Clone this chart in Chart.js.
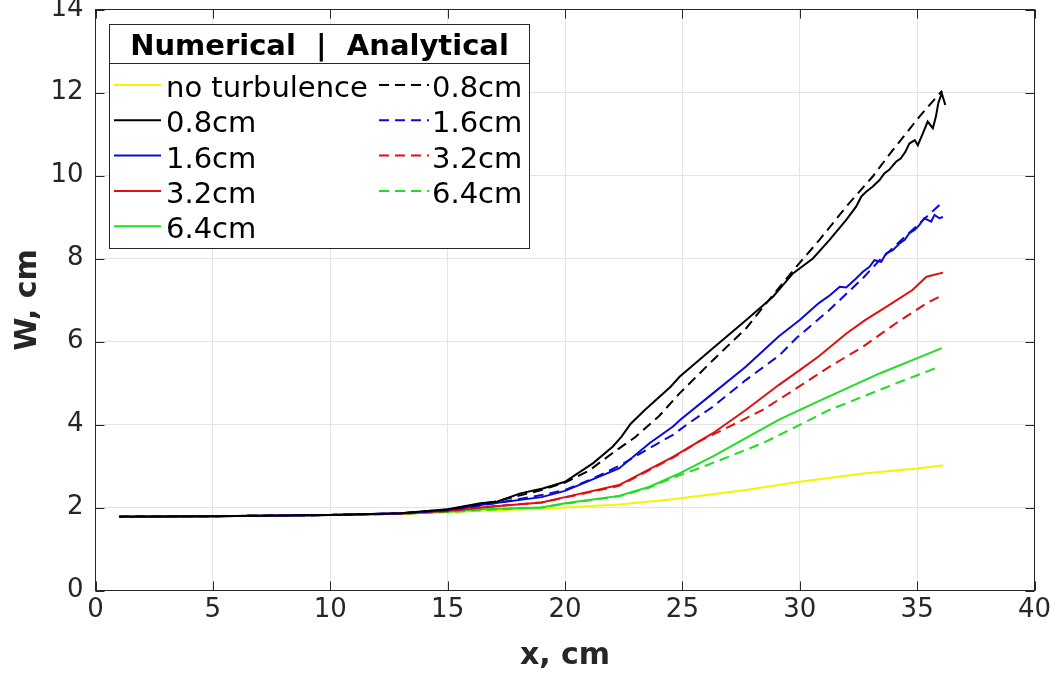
<!DOCTYPE html>
<html>
<head>
<meta charset="utf-8">
<script src="https://cdn.jsdelivr.net/npm/chart.js@4/dist/chart.umd.min.js"></script>
<style>
  html, body { margin: 0; padding: 0; background: #fff; }
</style>
</head>
<body>
<canvas id="chart" width="1057" height="678"></canvas>
<script>
// --- Data ---
const xTickValues = [0, 5, 10, 15, 20, 25, 30, 35, 40];
const yTickValues = [0, 2, 4, 6, 8, 10, 12, 14];

const legendTitle = "Numerical  |  Analytical";
const numLabels = ["no turbulence", "0.8cm", "1.6cm", "3.2cm", "6.4cm"];
const anaLabels = ["0.8cm", "1.6cm", "3.2cm", "6.4cm"];

// numerical, no turbulence
const xNoTurb = [1, 5, 10, 13, 15, 16.4, 19, 20, 22.3, 24.6, 27.7, 30, 32.7, 35, 36.1];
const wNoTurb = [1.78, 1.79, 1.82, 1.85, 1.89, 1.92, 1.97, 2.0, 2.07, 2.2, 2.42, 2.62, 2.82, 2.94, 3.02];

// numerical 0.8cm
const xNum08 = [1, 5, 10, 13, 15, 16.4, 17.1, 18.1, 19.05, 20, 21.2, 22.04, 22.4, 22.8, 23.4, 24.5, 24.88, 26.3, 27.72, 28.86, 29.71, 30.56, 31.27, 31.98, 32.4, 32.62, 32.83, 33.1, 33.4, 33.6, 33.8, 34.1, 34.3, 34.5, 34.67, 34.9, 35.03, 35.24, 35.45, 35.67, 35.8, 35.9, 36.05, 36.2];
const wNum08 = [1.78, 1.79, 1.82, 1.86, 1.96, 2.1, 2.14, 2.34, 2.46, 2.62, 3.07, 3.47, 3.7, 4.02, 4.35, 4.91, 5.15, 5.84, 6.52, 7.08, 7.64, 8.0, 8.45, 8.93, 9.25, 9.49, 9.61, 9.73, 9.89, 10.05, 10.13, 10.33, 10.41, 10.57, 10.77, 10.85, 10.73, 11.01, 11.3, 11.14, 11.42, 11.74, 11.98, 11.7];

// numerical 1.6cm
const xNum16 = [1, 5, 10, 13, 15, 16.4, 19, 20, 22.3, 23.6, 24.6, 24.9, 26.3, 27.7, 29.1, 30, 30.8, 31.3, 31.7, 31.98, 32.4, 32.69, 32.97, 33.18, 33.47, 33.68, 33.96, 34.25, 34.47, 34.67, 34.89, 35.1, 35.3, 35.45, 35.6, 35.74, 35.95, 36.1];
const wNum16 = [1.78, 1.79, 1.82, 1.86, 1.94, 2.06, 2.25, 2.4, 2.94, 3.55, 3.95, 4.11, 4.75, 5.39, 6.12, 6.52, 6.92, 7.12, 7.32, 7.3, 7.52, 7.68, 7.8, 7.96, 7.92, 8.12, 8.2, 8.36, 8.45, 8.61, 8.69, 8.81, 8.97, 8.93, 8.89, 9.05, 8.97, 9.0];

// numerical 3.2cm
const xNum32 = [1, 5, 10, 13, 15, 16.4, 19, 20, 22.3, 24.6, 26.3, 27.7, 29.1, 30, 30.8, 32, 32.8, 33.7, 34.8, 35.4, 36.1];
const wNum32 = [1.78, 1.79, 1.82, 1.85, 1.92, 2.0, 2.12, 2.25, 2.54, 3.22, 3.79, 4.35, 4.95, 5.31, 5.64, 6.2, 6.52, 6.84, 7.24, 7.56, 7.66];

// numerical 6.4cm
const xNum64 = [1, 5, 10, 13, 15, 16.4, 19, 20, 22.3, 23.6, 24.9, 26.3, 27.7, 29.1, 30.6, 32, 33.4, 34.8, 36.05];
const wNum64 = [1.78, 1.79, 1.82, 1.85, 1.9, 1.96, 2.0, 2.1, 2.28, 2.5, 2.83, 3.23, 3.67, 4.11, 4.51, 4.87, 5.23, 5.55, 5.84];

// analytical 0.8cm
const xAna08 = [1, 5, 10, 13, 15, 17, 19, 20, 21, 22, 23, 24, 24.88, 26.3, 27.72, 28.57, 29.85, 30.84, 31.98, 33.1, 33.96, 35.1, 36.06];
const wAna08 = [1.78, 1.79, 1.82, 1.86, 1.95, 2.14, 2.42, 2.6, 2.88, 3.3, 3.7, 4.2, 4.75, 5.55, 6.32, 6.92, 7.8, 8.45, 9.25, 9.97, 10.61, 11.42, 12.04];

// analytical 1.6cm
const xAna16 = [1, 5, 10, 13, 15, 17, 19, 20, 21, 22.3, 23.6, 24.6, 25.17, 26.3, 27.7, 29.14, 29.85, 31.26, 32.68, 33.4, 36.03];
const wAna16 = [1.78, 1.79, 1.82, 1.86, 1.93, 2.1, 2.3, 2.42, 2.65, 3.0, 3.43, 3.75, 3.99, 4.43, 5.07, 5.67, 6.08, 6.76, 7.52, 7.96, 9.33];

// analytical 3.2cm
const xAna32 = [1, 5, 10, 13, 15, 17, 19, 20, 22.3, 24.6, 25.73, 27.0, 28.42, 29.85, 31.26, 32.68, 34.1, 35.4, 36.1];
const wAna32 = [1.78, 1.79, 1.82, 1.85, 1.91, 2.03, 2.12, 2.24, 2.52, 3.2, 3.6, 3.95, 4.35, 4.87, 5.39, 5.87, 6.44, 6.92, 7.12];

// analytical 6.4cm
const xAna64 = [1, 5, 10, 13, 15, 17, 19, 20, 22.3, 23.6, 24.6, 25.73, 27.0, 28.42, 29.85, 31.26, 32.68, 34.1, 35.94];
const wAna64 = [1.78, 1.79, 1.82, 1.85, 1.89, 1.95, 2.0, 2.09, 2.27, 2.48, 2.72, 2.95, 3.23, 3.55, 3.95, 4.35, 4.67, 4.99, 5.39];

// --- helpers ---
const YELLOW = "#f5f500", BLACK = "#000000", BLUE = "#0a0ad8", RED = "#e01010", GREEN = "#22dd22";
const DASH = [10, 6];

function pts(xs, ws) {
  return xs.map((x, i) => ({ x: x, y: ws[i] }));
}

function line(label, xs, ws, color, dashed, order) {
  return {
    label: label,
    data: pts(xs, ws),
    borderColor: color,
    backgroundColor: color,
    borderWidth: 2,
    borderDash: dashed ? DASH : [],
    pointRadius: 0,
    tension: 0,
    fill: false,
    order: order
  };
}

const datasets = [
  line(numLabels[0], xNoTurb, wNoTurb, YELLOW, false, 9),
  line(numLabels[1], xNum08, wNum08, BLACK, false, 5),
  line(numLabels[2], xNum16, wNum16, BLUE, false, 6),
  line(numLabels[3], xNum32, wNum32, RED, false, 7),
  line(numLabels[4], xNum64, wNum64, GREEN, false, 8),
  line(anaLabels[0], xAna08, wAna08, BLACK, true, 1),
  line(anaLabels[1], xAna16, wAna16, BLUE, true, 2),
  line(anaLabels[2], xAna32, wAna32, RED, true, 3),
  line(anaLabels[3], xAna64, wAna64, GREEN, true, 4)
];

// --- plugins: axes box with inward ticks, two-column legend ---
const frame = {
  id: "frame",
  afterDatasetsDraw(chart) {
    const { ctx, chartArea: a, scales } = chart;
    const tl = 9;
    ctx.save();
    ctx.strokeStyle = "#262626";
    ctx.lineWidth = 1;
    ctx.beginPath();
    scales.x.ticks.forEach(t => {
      const px = Math.round(scales.x.getPixelForValue(t.value)) + 0.5;
      ctx.moveTo(px, a.bottom); ctx.lineTo(px, a.bottom - tl);
      ctx.moveTo(px, a.top); ctx.lineTo(px, a.top + tl);
    });
    scales.y.ticks.forEach(t => {
      const py = Math.round(scales.y.getPixelForValue(t.value)) + 0.5;
      ctx.moveTo(a.left, py); ctx.lineTo(a.left + tl, py);
      ctx.moveTo(a.right, py); ctx.lineTo(a.right - tl, py);
    });
    ctx.stroke();
    ctx.strokeRect(a.left, a.top, a.right - a.left, a.bottom - a.top);
    ctx.restore();
  }
};

const legendBox = {
  id: "legendBox",
  afterDraw(chart) {
    const ctx = chart.ctx;
    const L = 109.5, R = 529.5, T = 24.5, B = 248.5, headY = 63.5;
    const row0 = 97, rowH = 35.3;
    ctx.save();
    ctx.fillStyle = "#ffffff";
    ctx.fillRect(L, T, R - L, B - T);
    ctx.strokeStyle = "#262626";
    ctx.lineWidth = 1;
    ctx.strokeRect(L, T, R - L, B - T);
    ctx.beginPath();
    ctx.moveTo(L, headY); ctx.lineTo(R, headY);
    ctx.stroke();

    ctx.fillStyle = "#000";
    ctx.textBaseline = "alphabetic";
    ctx.font = "bold 29px 'DejaVu Sans'";
    ctx.textAlign = "center";
    ctx.fillText(legendTitle, (L + R) / 2, 55);

    ctx.font = "29px 'DejaVu Sans'";
    ctx.textAlign = "left";
    const sample = (ds, x0, x1, y) => {
      ctx.save();
      ctx.strokeStyle = ds.borderColor;
      ctx.lineWidth = 2;
      ctx.setLineDash(ds.borderDash);
      ctx.beginPath();
      ctx.moveTo(x0, y); ctx.lineTo(x1, y);
      ctx.stroke();
      ctx.restore();
    };
    for (let i = 0; i < 5; i++) {
      const ds = chart.data.datasets[i];
      const yb = row0 + i * rowH;
      sample(ds, 114, 161, yb - 12);
      ctx.fillText(ds.label, 166, yb);
    }
    for (let i = 0; i < 4; i++) {
      const ds = chart.data.datasets[5 + i];
      const yb = row0 + i * rowH;
      sample(ds, 379, 429, yb - 12);
      ctx.fillText(ds.label, 432, yb);
    }
    ctx.restore();
  }
};

Chart.defaults.font.family = "'DejaVu Sans'";

new Chart(document.getElementById("chart").getContext("2d"), {
  type: "line",
  data: { datasets: datasets },
  options: {
    responsive: false,
    animation: false,
    devicePixelRatio: 1,
    layout: { padding: { left: 0, right: 22.5, top: 9.5, bottom: 0 } },
    plugins: { legend: { display: false }, tooltip: { enabled: false } },
    scales: {
      x: {
        type: "linear",
        min: 0, max: 40,
        afterBuildTicks: s => { s.ticks = xTickValues.map(v => ({ value: v })); },
        afterFit: s => { s.height = 87.5; s.paddingLeft = 0; s.paddingRight = 0; },
        grid: { color: "#e3e3e3", lineWidth: 1, drawTicks: false },
        border: { display: false },
        ticks: { color: "#262626", font: { size: 26 }, padding: 4, maxRotation: 0, autoSkip: false },
        title: { display: true, text: "x, cm", color: "#262626", font: { size: 30, weight: "bold" }, padding: { top: 0, bottom: 4 } }
      },
      y: {
        type: "linear",
        min: 0, max: 14,
        afterBuildTicks: s => { s.ticks = yTickValues.map(v => ({ value: v })); },
        afterFit: s => { s.width = 95.5; s.paddingTop = 0; s.paddingBottom = 0; },
        grid: { color: "#e3e3e3", lineWidth: 1, drawTicks: false },
        border: { display: false },
        ticks: { color: "#262626", font: { size: 26 }, padding: 12, autoSkip: false },
        title: { display: true, text: "W, cm", color: "#262626", font: { size: 30, weight: "bold" }, padding: { top: 10, bottom: 0 } }
      }
    }
  },
  plugins: [frame, legendBox]
});
</script>
</body>
</html>
